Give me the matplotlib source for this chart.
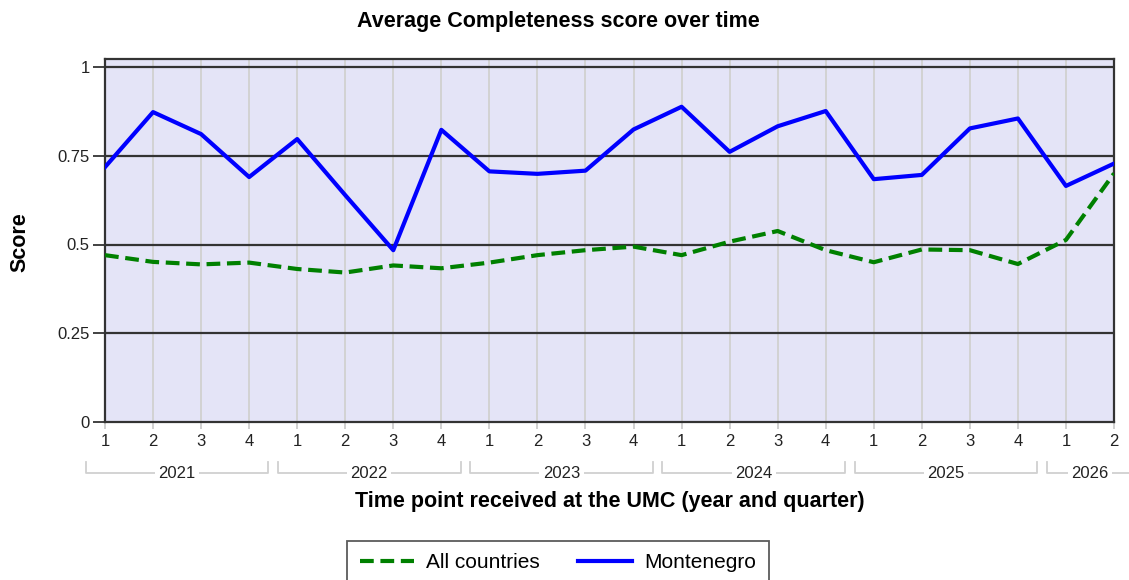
import matplotlib
matplotlib.use("Agg")
import matplotlib.pyplot as plt
from matplotlib.lines import Line2D

plt.rcParams['font.family'] = ['Liberation Sans', 'DejaVu Sans']

years = ["2021", "2022", "2023", "2024", "2025", "2026"]
quarters = ["1", "2", "3", "4"] * 5 + ["1", "2"]
year_of_point = ["2021"] * 4 + ["2022"] * 4 + ["2023"] * 4 + ["2024"] * 4 + ["2025"] * 4 + ["2026"] * 2

montenegro = [0.718, 0.873, 0.811, 0.690, 0.797, 0.639, 0.484, 0.823,
              0.706, 0.699, 0.708, 0.824, 0.888, 0.761, 0.833, 0.876,
              0.684, 0.696, 0.827, 0.855, 0.665, 0.728]
all_countries = [0.470, 0.451, 0.444, 0.449, 0.431, 0.421, 0.441, 0.433,
                 0.449, 0.470, 0.484, 0.494, 0.470, 0.508, 0.538, 0.484,
                 0.450, 0.486, 0.484, 0.445, 0.513, 0.700]

yticks = [0, 0.25, 0.5, 0.75, 1]
yticklabels = ["0", "0.25", "0.5", "0.75", "1"]

W, H = 1129, 580
fig = plt.figure(figsize=(W / 100, H / 100), dpi=100)
left, right, top, bottom = 105, 1114, 59, 422
ax = fig.add_axes([left / W, 1 - bottom / H, (right - left) / W, (bottom - top) / H])
ax.set_facecolor("#e4e4f7")

x = list(range(len(quarters)))
ax.set_xlim(0, len(quarters) - 1)
ax.set_ylim(0, 1 + 8 / 355)

for xi in x:
    ax.axvline(xi, color="#d2d2d2", lw=1.4, zorder=1)
for yv in yticks[1:]:
    ax.axhline(yv, color="#333333", lw=1.6, zorder=2)

ax.plot(x, all_countries, color="#008000", lw=3.0, ls=(0, (3.3, 1.6)), zorder=3,
        solid_capstyle="butt", label="All countries")
ax.plot(x, montenegro, color="#0000ff", lw=3.0, zorder=4, label="Montenegro",
        solid_joinstyle="round")

for s in ax.spines.values():
    s.set_color("#333333")
    s.set_linewidth(1.6)

ax.set_yticks(yticks)
ax.set_yticklabels(yticklabels)
ax.tick_params(axis="y", length=9, width=1.3, color="#333333", labelsize=12, pad=2,
               labelcolor="#222222")
ax.set_xticks(x)
ax.set_xticklabels(quarters)
ax.tick_params(axis="x", length=5, width=1.2, color="#c8c8c8", labelsize=12, pad=4,
               labelcolor="#222222")

# year group brackets
trans = ax.get_xaxis_transform()
ah = bottom - top
yb = (bottom - 473) / ah
yt = (bottom - 462) / ah
for yr in years:
    idx = [i for i, y in enumerate(year_of_point) if y == yr]
    x0 = idx[0] - 0.4
    x1 = idx[-1] + 0.4 if len(idx) == 4 else idx[-1] + 0.8
    ax.add_line(Line2D([x0, x0, x1, x1], [yt, yb, yb, yt], transform=trans,
                       color="#d0d0d0", lw=1.3, clip_on=False))
    xc = (idx[0] + idx[-1]) / 2
    ax.text(xc, yb, yr, transform=trans, ha="center", va="center", fontsize=12,
            color="#222222", bbox=dict(facecolor="white", edgecolor="none", pad=2.5),
            clip_on=False)

fig.text(558 / W, 1 - 22 / H, "Average Completeness score over time", ha="center",
         va="center", fontsize=15.5, fontweight="bold")
fig.text(20 / W, 1 - 242 / H, "Score", rotation=90, ha="center", va="center",
         fontsize=15.5, fontweight="bold")
fig.text(610 / W, 1 - 502 / H, "Time point received at the UMC (year and quarter)",
         ha="center", va="center", fontsize=15.5, fontweight="bold")

leg = fig.legend(loc="upper center", bbox_to_anchor=(558 / W, 1 - 541 / H), ncol=2,
                 fontsize=15, frameon=True, fancybox=False, handlelength=2.6,
                 columnspacing=1.8, borderpad=0.6, handletextpad=0.6,
                 borderaxespad=0)
leg.get_frame().set_edgecolor("#333333")
leg.get_frame().set_linewidth(1.3)

fig.savefig("out.png", dpi=100)
